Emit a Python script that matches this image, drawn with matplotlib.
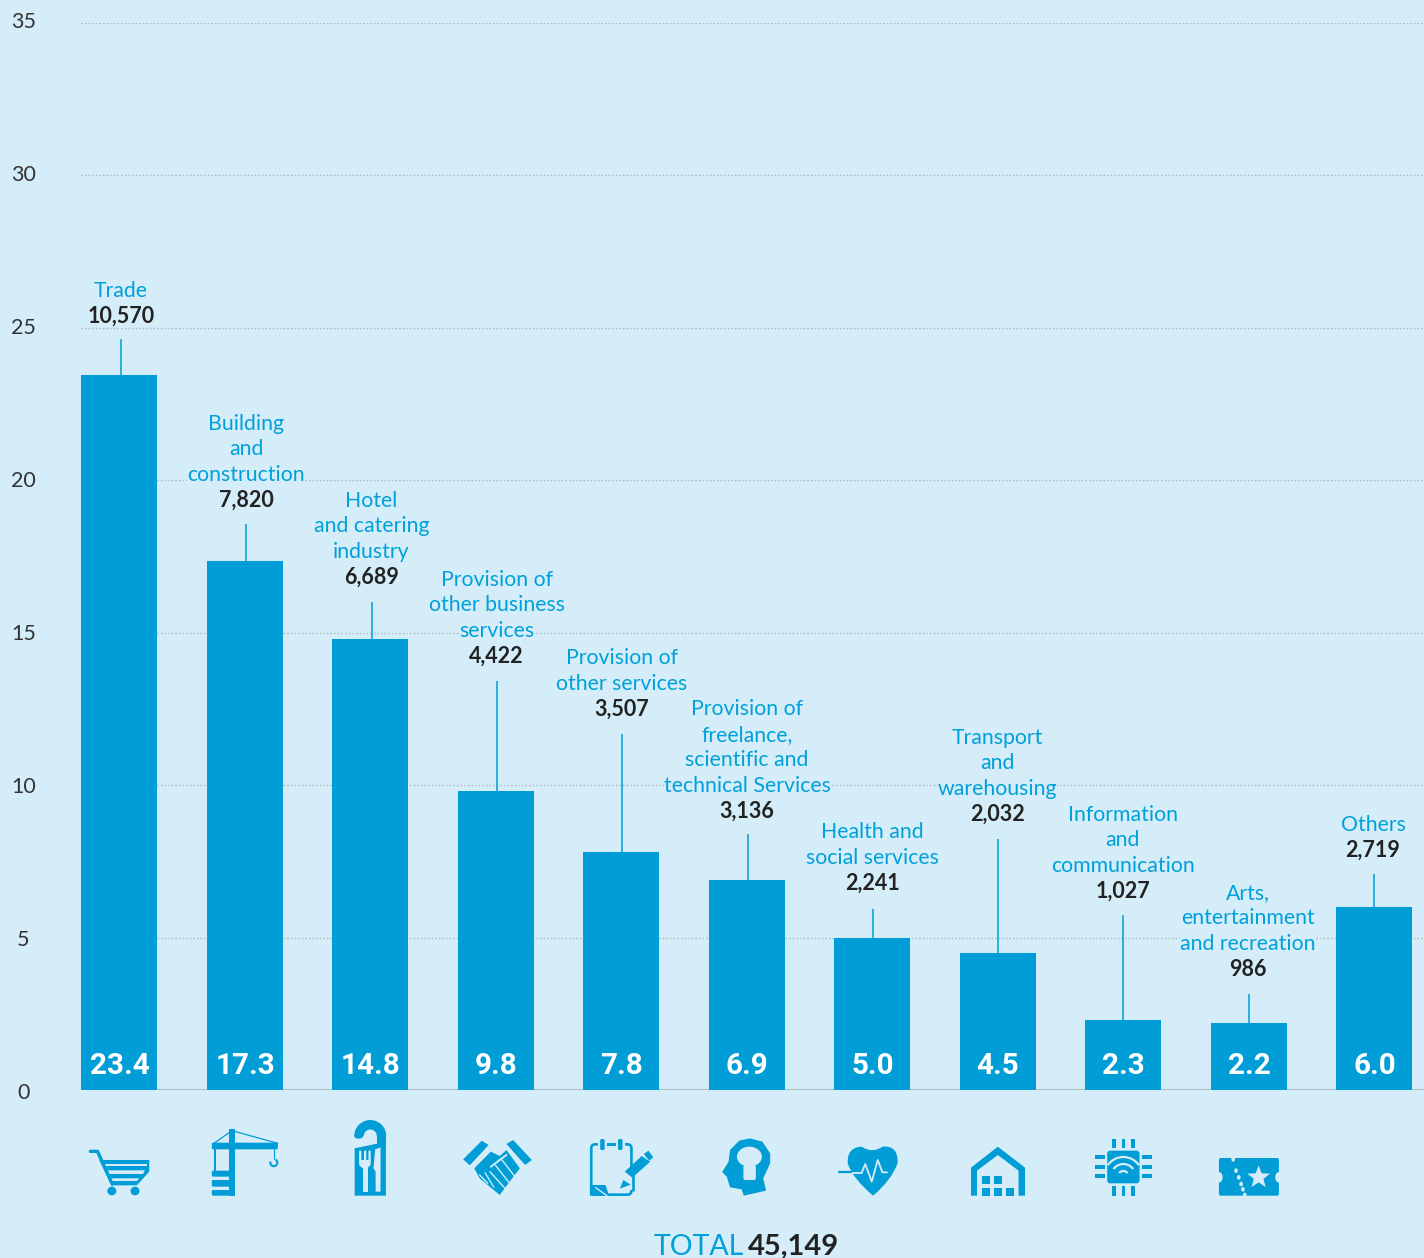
import numpy as np
import matplotlib
matplotlib.use("Agg")
import matplotlib.pyplot as plt
from matplotlib.patches import Polygon, Rectangle, Ellipse, FancyBboxPatch, PathPatch, Arc
from matplotlib.path import Path
from matplotlib.transforms import Affine2D

shares = [23.45, 17.35, 14.8, 9.8, 7.8, 6.9, 5.0, 4.5, 2.3, 2.2, 6.0]
share_labels = ["23.4", "17.3", "14.8", "9.8", "7.8", "6.9", "5.0", "4.5", "2.3", "2.2", "6.0"]
counts = ["10,570", "7,820", "6,689", "4,422", "3,507", "3,136", "2,241", "2,032", "1,027", "986", "2,719"]
sectors = [
    ["Trade"],
    ["Building", "and", "construction"],
    ["Hotel", "and catering", "industry"],
    ["Provision of", "other business", "services"],
    ["Provision of", "other services"],
    ["Provision of", "freelance,", "scientific and", "technical Services"],
    ["Health and", "social services"],
    ["Transport", "and", "warehousing"],
    ["Information", "and", "communication"],
    ["Arts,", "entertainment", "and recreation"],
    ["Others"],
]
yticks = [0, 5, 10, 15, 20, 25, 30, 35]
total_label = "TOTAL"
total_value = "45,149"

BG = "#D5EDF9"
BLUE = "#009DD6"
TXT_BLUE = "#00A0DA"
DARK = "#222222"
FONT = "Lato"

# layout in pixels of the 1424x1258 picture
W, H = 1424, 1258
Y0, Y35 = 1090, 23
X_FIRST, X_STEP, BAR_W = 119, 125.5, 76
count_base = [323, 507, 584, 663, 716, 818, 890, 821, 898, 976, 857]
leader_top = [339, 524, 602, 681, 734, 834, 909, 839, 915, 994, 874]
LINE_H = 25.4

plt.rcParams["font.family"] = [FONT, "DejaVu Sans"]
fig = plt.figure(figsize=(W / 100, H / 100), dpi=100, facecolor=BG)

ax = fig.add_axes([0, 1 - Y0 / H, 1, (Y0 - Y35) / H], facecolor="none")
ax.set_xlim((0 - X_FIRST) / X_STEP, (W - X_FIRST) / X_STEP)
ax.set_ylim(0, 35)
ax.patch.set_visible(False)
for s in ax.spines.values():
    s.set_visible(False)
ax.tick_params(left=False, bottom=False, labelbottom=False, labelleft=False)

xpos = np.arange(len(shares))
grid_left = (81 - X_FIRST) / X_STEP
ax.hlines(yticks[1:], grid_left, ax.get_xlim()[1], color="#A9B5B9", lw=1, linestyle=(0, (1, 1.6)), zorder=1)
ax.hlines(0, grid_left, ax.get_xlim()[1], color="#A8B2B6", lw=1.2, zorder=1)
ax.bar(xpos, shares, width=BAR_W / X_STEP, color=BLUE, zorder=2)

px_per_unit = (Y0 - Y35) / 35
for i, v in enumerate(shares):
    top = (Y0 - leader_top[i]) / px_per_unit
    lx = (121 + 125.3 * i - X_FIRST) / X_STEP
    ax.plot([lx, lx], [v, top], color=BLUE, lw=1.1, zorder=2, solid_capstyle="butt")

# pixel overlay for labels and icons
ov = fig.add_axes([0, 0, 1, 1], facecolor="none")
ov.set_xlim(0, W)
ov.set_ylim(H, 0)
ov.axis("off")

for i, lab in enumerate(share_labels):
    ov.text(X_FIRST + X_STEP * i + 0.5, 1074, lab, color="white", fontsize=21.3, fontweight="bold",
            family=["Roboto", "DejaVu Sans"], ha="center", va="baseline")

for t in yticks:
    ov.text(23.5, 1093 - t * 30.6, str(t), color="#333333", fontsize=15.5, ha="center", va="center")

for i, lines in enumerate(sectors):
    cx = 121 + 125.2 * i
    ov.text(cx, count_base[i], counts[i], color=DARK, fontsize=15.5, fontweight="bold", ha="center", va="baseline")
    for j, line in enumerate(reversed(lines)):
        ov.text(cx, count_base[i] - 1 - LINE_H * (j + 1), line, color=TXT_BLUE, fontsize=15.3,
                ha="center", va="baseline", bbox=dict(facecolor=BG, edgecolor="none", pad=0))

ov.text(654, 1255, total_label, color=TXT_BLUE, fontsize=20.5, ha="left", va="baseline")
ov.text(748, 1255, total_value, color=DARK, fontsize=21, fontweight="bold", ha="left", va="baseline")


class Icon:
    def __init__(self, ox, oy, sx):
        self.ox, self.oy, self.sx = ox, oy, sx

    def p(self, pts):
        return [(self.ox + x / self.sx, self.oy + y / 3) for x, y in pts]

    def poly(self, pts, c=BLUE):
        ov.add_patch(Polygon(self.p(pts), closed=True, fc=c, ec="none"))

    def rect(self, x0, y0, x1, y1, c=BLUE, r=0):
        (a, b), (d, e) = self.p([(x0, y0), (x1, y1)])
        if r:
            ov.add_patch(FancyBboxPatch((a + r, b + r), d - a - 2 * r, e - b - 2 * r,
                                        boxstyle=f"round,pad={r},rounding_size={r}", fc=c, ec="none"))
        else:
            ov.add_patch(Rectangle((a, b), d - a, e - b, fc=c, ec="none"))

    def line(self, pts, lw=1.0, c=BLUE):
        a = np.array(self.p(pts))
        ov.plot(a[:, 0], a[:, 1], color=c, lw=lw, solid_capstyle="round")

    def circle(self, x, y, rx, ry=None, c=BLUE):
        (a, b), = self.p([(x, y)])
        ry = rx if ry is None else ry
        ov.add_patch(Ellipse((a, b), 2 * rx / self.sx, 2 * ry / 3, fc=c, ec="none"))


left = Icon(60, 1100, 2.24)
right = Icon(700, 1100, 2.166)

# cart
left.line([(68, 154), (84, 154), (117, 252)], lw=2.4)
left.poly([(88, 180), (200, 180), (200, 215), (172, 256), (115, 256)])
left.rect(98, 191, 194, 198, BG)
left.poly([(104, 211), (190, 211), (186, 222), (108, 222)], BG)
left.poly([(112, 235), (178, 235), (172, 243), (115, 243)], BG)
left.circle(116, 273, 10, 13)
left.circle(168, 273, 10, 13)

# crane
left.rect(378, 88, 392, 287)
left.rect(340, 128, 488, 148, r=1.5)
left.rect(345, 148, 349, 212)
left.rect(340, 212, 392, 230, r=1.5)
left.rect(340, 240, 392, 260, r=1.5)
left.rect(340, 270, 392, 287, r=1.5)
left.rect(349, 232, 378, 238, BG)
left.line([(385, 92), (345, 130)], lw=0.9)
left.line([(385, 92), (488, 130)], lw=0.9)
left.line([(480, 148), (480, 178)], lw=0.8)
(hx, hy), = left.p([(479, 188)])
ov.add_patch(Arc((hx, hy), 7, 7, theta1=-60, theta2=200, color=BLUE, lw=1.5))

# door hanger with cutlery
left.poly([(660, 145), (710, 131), (730, 131), (730, 287), (660, 287)])
(dx, dy), = left.p([(695, 108)])
ov.add_patch(Arc((dx, dy), 22.5, 22.5, theta1=180, theta2=360, color=BLUE, lw=6.8))
left.rect(710, 108, 730, 135)
left.circle(669, 108, 10, 8)
left.rect(678, 200, 690, 275, BG)
left.poly([(670, 152), (675, 152), (675, 180), (681, 180), (681, 152), (686, 152), (686, 180),
           (691, 180), (691, 152), (696, 152), (696, 195), (688, 205), (678, 205), (670, 195)], BG)
left.poly([(706, 148), (718, 142), (718, 275), (707, 275), (707, 215), (702, 205)], BG)

# handshake
left.poly([(903, 178), (945, 122), (960, 135), (918, 196)])
left.poly([(1000, 132), (1015, 120), (1057, 180), (1042, 195)])
left.poly([(928, 205), (965, 155), (985, 168), (1000, 150), (1030, 205), (1010, 240), (985, 285), (940, 235)])
left.line([(965, 200), (1000, 165)], lw=1.4, c=BG)
left.line([(990, 180), (1025, 240)], lw=1.0, c=BG)
left.line([(975, 195), (1012, 258)], lw=1.0, c=BG)
left.line([(963, 215), (1000, 270)], lw=1.0, c=BG)
left.line([(940, 225), (958, 250)], lw=1.0, c=BG)
left.line([(952, 218), (972, 262)], lw=0.9, c=BG)

# notepad and pencil
(nx0, ny0), (nx1, ny1) = left.p([(1190, 133), (1280, 284)])
ov.add_patch(FancyBboxPatch((nx0 + 4, ny0 + 4), nx1 - nx0 - 8, ny1 - ny0 - 8, boxstyle="round,pad=4,rounding_size=4",
                            fc="none", ec=BLUE, lw=1.9))
left.rect(1205, 120, 1265, 142, BG)
left.rect(1210, 117, 1220, 150, r=1.5)
left.rect(1250, 117, 1260, 150, r=1.5)
left.rect(1225, 129, 1245, 137)
left.rect(1240, 200, 1300, 270, BG)
left.poly([(1187, 255), (1222, 255), (1230, 287), (1187, 287)])
left.line([(1200, 263), (1225, 287)], lw=1.0, c=BG)
left.poly([(1265, 215), (1303, 168), (1322, 185), (1282, 233)])
left.poly([(1308, 162), (1318, 152), (1329, 172), (1320, 182)])
left.poly([(1262, 240), (1278, 254), (1254, 266)])
left.line([(1283, 215), (1283, 270)], lw=1.9)

# head with bulb
right.poly([(48, 216), (62, 185), (65, 150), (85, 122), (108, 115), (135, 125), (152, 160), (152, 190), (137, 235),
            (143, 272), (95, 287), (90, 268), (65, 262), (58, 230)])
right.circle(107, 170, 27, 30, BG)
right.rect(94, 195, 121, 240, BG, r=2)

# heart with pulse line
h = np.array(right.p([(375, 287), (330, 235), (320, 190), (318, 142), (350, 140), (374, 162),
                      (395, 140), (430, 135), (428, 190), (415, 240), (375, 287)]))
ov.add_patch(PathPatch(Path(h, [Path.MOVETO, Path.CURVE3, Path.CURVE3, Path.CURVE3, Path.CURVE3, Path.CURVE3,
                                Path.CURVE3, Path.CURVE3, Path.CURVE3, Path.CURVE3, Path.CURVE3]), fc=BLUE, ec="none"))
right.line([(302, 215), (350, 215)], lw=1.6)
right.line([(330, 219), (350, 219), (358, 192), (372, 245), (385, 180), (395, 217), (405, 217)], lw=1.3, c=BG)

# warehouse
right.poly([(587, 287), (587, 203), (645, 140), (704, 203), (704, 287), (690, 287), (690, 212), (645, 165),
            (600, 212), (600, 287)])
for x0, y0 in [(611, 228), (636, 228), (611, 263), (636, 263), (662, 263)]:
    right.rect(x0, y0, x0 + 18, y0 + 24)

# chip with wifi
right.rect(882, 152, 952, 250, r=3)
for x0 in (893, 913, 934):
    right.rect(x0, 117, x0 + 8, 145)
    right.rect(x0, 258, x0 + 8, 287)
for y0 in (165, 194, 222):
    right.rect(855, y0, 877, y0 + 12)
    right.rect(957, y0, 979, y0 + 12)
(wx, wy), = right.p([(917, 228)])
for r in (38, 24, 10):
    ov.add_patch(Arc((wx, wy), r, r, theta1=215, theta2=325, color=BG, lw=1.6))

# ticket
right.rect(1124, 174, 1254, 287, r=2)
right.circle(1124, 232, 8, 16, BG)
right.circle(1254, 232, 8, 16, BG)
for x, y in zip([1155, 1161, 1167, 1172, 1176, 1180], [178, 212, 232, 252, 268, 285]):
    right.circle(x, y, 4, 7, BG)
(sx, sy), = right.p([(1210, 232)])
star = Path.unit_regular_star(5, 0.42).transformed(Affine2D().scale(12, -12).translate(sx, sy))
ov.add_patch(PathPatch(star, fc=BG, ec="none"))

fig.savefig("out.png", dpi=100, facecolor=BG)
